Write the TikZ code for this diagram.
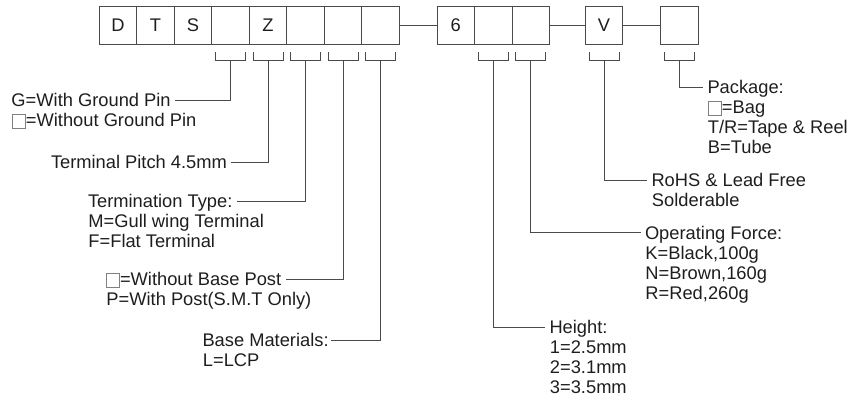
\documentclass[tikz,border=0pt]{standalone}
\usepackage{fontspec}
\setmainfont{Liberation Sans}
\usepackage{xcolor}
\usetikzlibrary{positioning, calc}
\definecolor{ink}{HTML}{1E1E1E}
\definecolor{wire}{HTML}{4A4A4A}
\newcommand{\nobox}{\raisebox{-1.5pt}{\textcolor{gray}{\fboxsep=0pt\fboxrule=0.6pt\fbox{\rule{0pt}{0.74em}\hspace{0.7em}}}}}
\newcommand{\textlines}[1]{\begin{tabular}[t]{@{}l@{}}#1\end{tabular}}

\begin{document}
\begin{tikzpicture}[x=1pt, y=1pt, line width=0.9pt,
    every node/.style={font=\fontsize{18.3}{20}\selectfont, text=ink},
    cell/.style={draw=wire, minimum width=37.5pt, minimum height=38pt, inner sep=0pt, outer sep=0pt},
    head/.style={inner sep=0pt, outer xsep=4.5pt, text height=13pt, text depth=0pt},
    body/.style={inner sep=0pt, anchor=base west},
    wire/.style={draw=wire}]
    \useasboundingbox (0,0) rectangle (857,-400);

    % code boxes
    \foreach \t [count=\i] in {D,T,S,{},Z,{},{},{}}
        \node[cell] (b\i) at ({99.3+37.5*(\i-0.5)},-25) {\t};
    \foreach \t [count=\i] in {6,{},{}}
        \node[cell] (c\i) at ({437+37.5*(\i-0.5)},-25) {\t};
    \node[cell] (v) at (604,-25) {V};
    \node[cell] (p) at (679.5,-25) {};
    \draw[wire] (b8.east) -- (c1.west) (c3.east) -- (v.west) (v.east) -- (p.west);

    % brackets
    \foreach \n in {b4,b5,b6,b7,b8,c2,c3,v,p} {
        \draw[wire] ([xshift=-15pt,yshift=-8pt]\n.south) -- ++(0,-8) -- ++(30,0) -- ++(0,8);
        \coordinate (\n t) at ([yshift=-16pt]\n.south);
    }

    % left labels
    \node[head, anchor=west] (gp) at (7,-100) {G=With Ground Pin};
    \node[body] at ([xshift=4.5pt,yshift=-20pt]gp.south west) {\nobox=Without Ground Pin};
    \node[head, anchor=west] (tp) at (46.5,-162) {Terminal Pitch 4.5mm};
    \node[head, anchor=west] (tt) at (83.5,-201) {Termination Type:};
    \node[body] at ([xshift=4.5pt,yshift=-20pt]tt.south west) {\textlines{M=Gull wing Terminal\\F=Flat Terminal}};
    \node[head, anchor=west] (bp) at (101.5,-279) {\nobox=Without Base Post};
    \node[body] at ([xshift=4.5pt,yshift=-20pt]bp.south west) {P=With Post(S.M.T Only)};
    \node[head, anchor=west, outer xsep=2pt] (bm) at (200.5,-340) {Base Materials:};
    \node[body] at ([xshift=2pt,yshift=-20pt]bm.south west) {L=LCP};

    % right labels
    \node[head, anchor=west] (pk) at (703,-87) {Package:};
    \node[body] at ([xshift=4.5pt,yshift=-20pt]pk.south west) {\textlines{\nobox=Bag\\T/R=Tape \& Reel\\B=Tube}};
    \node[head, anchor=west] (rh) at (647,-180) {RoHS \& Lead Free};
    \node[body] at ([xshift=4.5pt,yshift=-20pt]rh.south west) {Solderable};
    \node[head, anchor=west] (of) at (640.5,-232.5) {Operating Force:};
    \node[body] at ([xshift=4.5pt,yshift=-20pt]of.south west) {\textlines{K=Black,100g\\N=Brown,160g\\R=Red,260g}};
    \node[head, anchor=west] (ht) at (545,-327) {Height:};
    \node[body] at ([xshift=4.5pt,yshift=-20pt]ht.south west) {\textlines{1=2.5mm\\2=3.1mm\\3=3.5mm}};

    % connectors
    \draw[wire] (b4t) |- (gp.east);
    \draw[wire] (b5t) |- (tp.east);
    \draw[wire] (b6t) |- (tt.east);
    \draw[wire] (b7t) |- (bp.east);
    \draw[wire] (b8t) |- (bm.east);
    \draw[wire] (c2t) |- (ht.west);
    \draw[wire] (c3t) |- (of.west);
    \draw[wire] (vt) |- (rh.west);
    \draw[wire] (pt) |- (pk.west);
\end{tikzpicture}
\end{document}
